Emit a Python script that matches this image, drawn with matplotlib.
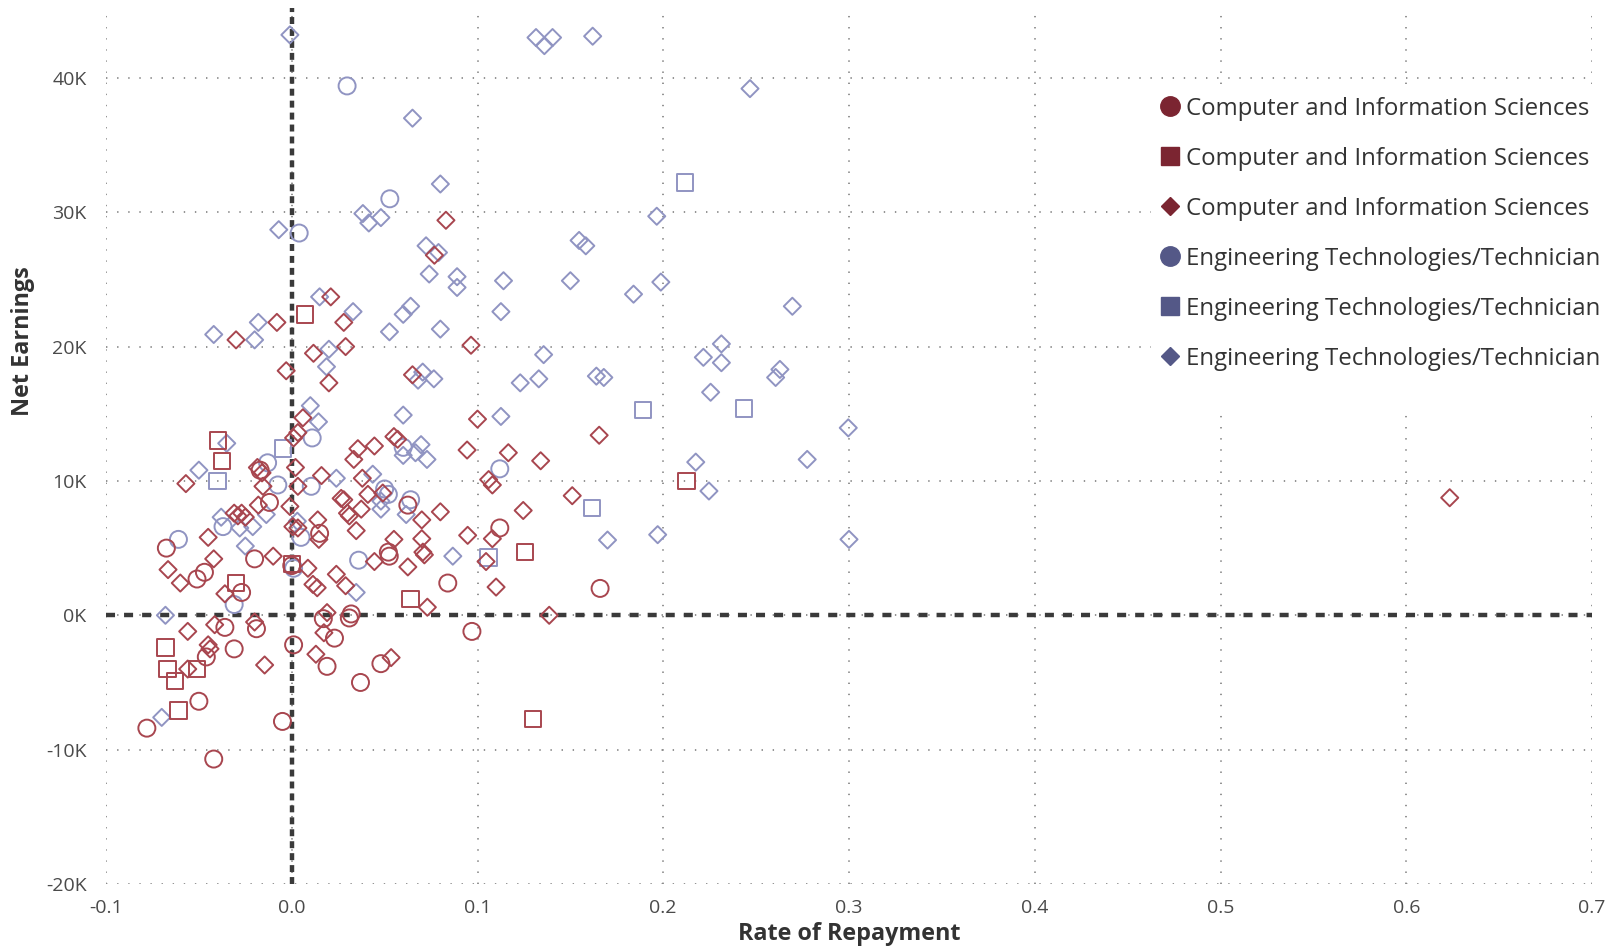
import matplotlib
matplotlib.use("Agg")
import matplotlib.pyplot as plt
from matplotlib.lines import Line2D
from matplotlib.patches import Rectangle
from matplotlib.ticker import FuncFormatter, MultipleLocator

plt.rcParams['font.family'] = ['Open Sans', 'DejaVu Sans']
plt.rcParams['lines.scale_dashes'] = False

# rate of repayment, net earnings (thousands)
cis_circle_x = [-0.0675, -0.051, -0.047, -0.020, -0.027, -0.036, -0.019, -0.031, -0.046, -0.050,
                -0.078, -0.042, -0.005, 0.001, 0.000, 0.015, 0.017, 0.023, 0.019, 0.031,
                0.032, 0.037, 0.048, 0.052, 0.0525, 0.0625, 0.084, 0.097, 0.112, -0.012,
                0.166, -0.017]
cis_circle_y = [5.0, 2.7, 3.2, 4.2, 1.7, -0.9, -1.0, -2.5, -3.1, -6.4,
                -8.4, -10.7, -7.9, -2.2, 3.7, 6.1, -0.25, -1.7, -3.8, -0.2,
                0.1, -5.0, -3.6, 4.7, 4.4, 8.2, 2.4, -1.2, 6.5, 8.4,
                2.0, 10.8]

cis_square_x = [-0.0397, -0.0375, -0.030, -0.068, -0.067, -0.063, -0.051, -0.061, 0.000, 0.064,
                0.007, 0.1255, 0.130, 0.2126]
cis_square_y = [13.0, 11.5, 2.4, -2.4, -4.0, -4.9, -4.0, -7.1, 3.8, 1.2,
                22.4, 4.7, -7.7, 10.0]

cis_diamond_x = [0.083, 0.0768, 0.021, 0.028, -0.008, -0.030, 0.0965, 0.0117, 0.029, -0.003,
                 0.020, 0.065, 0.006, 0.0033, 0.001, 0.100, 0.055, 0.057, 0.0944, 0.1655,
                 0.134, 0.1166, 0.106, 0.108, -0.057, -0.0185, -0.016, -0.0155, -0.018, 0.002,
                 0.0033, -0.001, 0.0006, 0.016, 0.014, 0.0146, 0.0356, 0.0334, 0.0445, 0.038,
                 0.041, 0.049, 0.0266, 0.0374, 0.030, 0.031, 0.0347, 0.070, 0.070, 0.0706,
                 0.0714, 0.080, 0.055, 0.0625, 0.0947, 0.108, 0.110, 0.1046, 0.1246, 0.151,
                 0.1386, 0.0445, 0.073, 0.024, 0.029, 0.0114, 0.0137, 0.0087, -0.010, -0.042,
                 -0.045, -0.0666, -0.060, -0.036, -0.031, -0.029, -0.027, -0.025, 0.6234, -0.056,
                 -0.0415, -0.020, -0.045, -0.044, -0.056, -0.0146, 0.013, 0.0535, 0.0173, 0.019,
                 0.028, 0.0033]
cis_diamond_y = [29.4, 26.8, 23.7, 21.8, 21.8, 20.5, 20.1, 19.5, 20.0, 18.2,
                 17.3, 17.9, 14.7, 13.6, 13.2, 14.6, 13.3, 13.1, 12.3, 13.4,
                 11.5, 12.1, 10.1, 9.7, 9.8, 11.0, 10.6, 9.6, 8.2, 11.0,
                 9.6, 8.1, 6.6, 10.4, 7.1, 5.65, 12.4, 11.6, 12.6, 10.2,
                 9.0, 9.1, 8.7, 7.9, 7.6, 7.4, 6.3, 7.1, 5.7, 4.7,
                 4.5, 7.7, 5.65, 3.6, 5.95, 5.7, 2.1, 4.0, 7.8, 8.9,
                 0.0, 4.0, 0.6, 3.05, 2.2, 2.3, 2.05, 3.5, 4.4, 4.2,
                 5.8, 3.4, 2.4, 1.6, 7.6, 7.4, 7.6, 7.3, 8.75, -1.2,
                 -0.7, -0.5, -2.2, -2.5, -4.0, -3.7, -2.9, -3.15, -1.3, 0.2,
                 8.6, 6.5]

eng_circle_x = [-0.061, -0.031, 0.005, 0.036, 0.050, 0.052, 0.064, 0.112, -0.0075, 0.0105,
                0.011, -0.013, -0.037, 0.060, 0.0298, 0.0528, 0.004, 0.001]
eng_circle_y = [5.65, 0.8, 5.8, 4.1, 9.4, 9.0, 8.6, 10.9, 9.7, 9.6,
                13.2, 11.35, 6.6, 12.5, 39.4, 31.0, 28.45, 3.5]

eng_square_x = [-0.040, -0.0047, 0.106, 0.2116, 0.189, 0.2435, 0.1616]
eng_square_y = [10.0, 12.4, 4.3, 32.2, 15.3, 15.4, 8.0]

eng_diamond_x = [-0.001, 0.1315, 0.136, 0.1404, 0.162, 0.2467, 0.065, 0.080, 0.0383, 0.0415,
                 0.048, -0.007, 0.0723, 0.079, 0.074, 0.089, 0.089, 0.1965, 0.1547, 0.1583,
                 0.114, 0.150, 0.184, 0.1987, 0.1126, 0.2695, 0.1356, 0.123, 0.133, 0.164,
                 0.168, 0.2313, 0.2216, 0.2313, 0.2628, 0.2605, 0.2255, 0.015, 0.033, 0.060,
                 0.064, 0.0526, 0.080, -0.018, -0.042, -0.020, 0.020, 0.0187, 0.0705, 0.068,
                 0.0765, 0.010, 0.0144, 0.060, 0.1126, 0.060, 0.0696, 0.0666, 0.0728, -0.035,
                 -0.050, -0.0137, 0.003, 0.024, 0.0436, 0.048, 0.048, 0.0616, 0.0867, 0.0347,
                 -0.038, -0.028, -0.021, -0.025, -0.068, -0.070, 0.170, 0.197, 0.300, 0.2996,
                 0.2775, 0.2175, 0.2246]
eng_diamond_y = [43.2, 43.0, 42.4, 43.0, 43.1, 39.2, 37.0, 32.1, 29.9, 29.2,
                 29.6, 28.7, 27.5, 27.0, 25.4, 25.2, 24.4, 29.7, 27.9, 27.5,
                 24.9, 24.9, 23.9, 24.8, 22.6, 23.0, 19.4, 17.3, 17.6, 17.8,
                 17.7, 20.2, 19.2, 18.8, 18.3, 17.7, 16.6, 23.7, 22.6, 22.4,
                 23.0, 21.1, 21.3, 21.8, 20.9, 20.5, 19.8, 18.5, 18.1, 17.5,
                 17.6, 15.6, 14.4, 14.9, 14.8, 11.9, 12.7, 12.1, 11.6, 12.8,
                 10.8, 7.5, 7.0, 10.2, 10.5, 8.5, 7.9, 7.5, 4.4, 1.7,
                 7.3, 6.5, 6.6, 5.15, 0.0, -7.6, 5.6, 6.0, 5.65, 13.95,
                 11.6, 11.4, 9.25]

# legend text as far as it is visible in the reference
legend_labels = ["Computer and Information Sciences",
                 "Computer and Information Sciences",
                 "Computer and Information Sciences",
                 "Engineering Technologies/Technician",
                 "Engineering Technologies/Technician",
                 "Engineering Technologies/Technician"]

red_edge = '#a8464f'
blue_edge = '#9094c2'
red_legend = '#7b2531'
blue_legend = '#545887'

fig = plt.figure(figsize=(16.12, 9.5), dpi=100)
ax = fig.add_axes([106/1612, 66/950, 1486/1612, 876/950])

def k(vals):
    return [v * 1000 for v in vals]

kw = dict(facecolor='none', linewidths=1.4, zorder=3)
ax.scatter(eng_diamond_x, k(eng_diamond_y), marker='D', s=76, edgecolors=blue_edge, **kw)
ax.scatter(eng_circle_x, k(eng_circle_y), marker='o', s=150, edgecolors=blue_edge, **kw)
ax.scatter(eng_square_x, k(eng_square_y), marker='s', s=140, edgecolors=blue_edge, **kw)
ax.scatter(cis_diamond_x, k(cis_diamond_y), marker='D', s=76, edgecolors=red_edge, **kw)
ax.scatter(cis_circle_x, k(cis_circle_y), marker='o', s=150, edgecolors=red_edge, **kw)
ax.scatter(cis_square_x, k(cis_square_y), marker='s', s=140, edgecolors=red_edge, **kw)

# zero reference lines
ax.axhline(0, color='#3a3a3a', lw=3.2, linestyle=(0, (6.5, 6.5)), zorder=2)
ax.axvline(0, color='#3a3a3a', lw=3.2, linestyle=(0, (5, 3.6)), zorder=2)

ax.set_xlim(-0.1, 0.7)
ax.set_ylim(-20000, 45200)
ax.xaxis.set_major_locator(MultipleLocator(0.1))
ax.yaxis.set_major_locator(MultipleLocator(10000))
ax.xaxis.set_major_formatter(FuncFormatter(lambda v, p: f"{v:.1f}"))
ax.yaxis.set_major_formatter(FuncFormatter(lambda v, p: f"{v/1000:.0f}K"))
ax.grid(True, color='#8a8a8a', lw=1.3, linestyle=(0, (1, 7)), zorder=1)
ax.set_axisbelow(True)
for s in ax.spines.values():
    s.set_visible(False)
ax.tick_params(length=0, labelsize=14, labelcolor='#4a4a4a')
ax.tick_params(axis='y', pad=14)
ax.tick_params(axis='x', pad=11)

ax.set_xlabel("Rate of Repayment", fontsize=16.8, fontweight='bold', color='#333333')
ax.set_ylabel("Net Earnings", fontsize=16.8, fontweight='bold', color='#333333')
ax.xaxis.set_label_coords(0.5, -0.043)
ax.yaxis.set_label_coords(-0.048, 0.62)

# white box behind the legend hides the grid there
ax.add_patch(Rectangle((1151/1612, 1 - 413/950), 461/1612, 328/950,
                       transform=fig.transFigure, facecolor='white', edgecolor='none',
                       zorder=1.5, clip_on=False))

handles = []
for col in (red_legend, blue_legend):
    for m, ms in (('o', 14), ('s', 13), ('D', 9.5)):
        handles.append(Line2D([], [], linestyle='none', marker=m, markersize=ms,
                              markerfacecolor=col, markeredgecolor=col))
leg = ax.legend(handles, legend_labels, loc='upper left',
                bbox_to_anchor=(1152/1612, 1 - 92/950), bbox_transform=fig.transFigure,
                frameon=False, fontsize=17.3, labelspacing=1.08, handletextpad=0.1,
                handlelength=1.1, borderpad=0.2, borderaxespad=0)
leg.set_zorder(5)
for t in leg.get_texts():
    t.set_color('#333333')

fig.savefig("out.png", dpi=100)
